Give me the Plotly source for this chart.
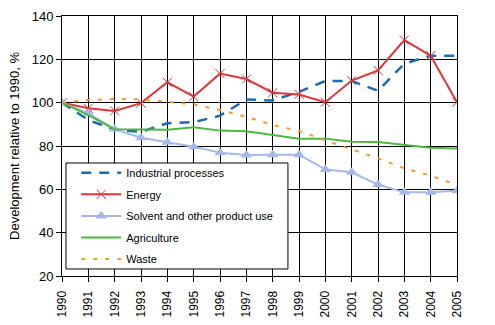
import plotly.graph_objects as go

years = list(range(1990, 2006))

industrial = [100, 92, 87.5, 86.5, 90.5, 91, 94, 101.5, 101, 105, 110, 110, 105.5, 118, 121.7, 121.7]
energy = [100, 97.4, 96.2, 99.8, 109.4, 102.8, 113.4, 110.9, 104.6, 103.8, 100.2, 110.2, 114.9, 128.9, 121.7, 100.2]
solvent = [100, 95.1, 87.8, 83.8, 81.7, 79.7, 76.9, 75.9, 76, 76, 69.2, 67.9, 62.2, 58.6, 58.6, 59.4]
agriculture = [100, 94.3, 87.7, 87.5, 87.5, 88.6, 87.1, 86.8, 85.1, 83.4, 83.4, 82, 81.8, 80.5, 79.2, 78.8]
waste = [100, 101.2, 101.7, 101.5, 100.4, 99.2, 96.6, 93.5, 89.7, 86.9, 82.6, 78.5, 74.3, 69.7, 66.3, 62]

font = "Liberation Sans, Arial, sans-serif"

fig = go.Figure()
fig.add_trace(go.Scatter(x=years, y=industrial, name="Industrial processes", mode="lines",
                         line=dict(color="#1F69B4", width=2.5, dash="10px,8px"), legendgroup="a"))
fig.add_trace(go.Scatter(x=years, y=energy, name="Energy", mode="lines+markers",
                         line=dict(color="#E0353A", width=2),
                         marker=dict(symbol="x-thin", size=9, line=dict(color="#E0353A", width=1)),
                         legendgroup="b"))
fig.add_trace(go.Scatter(x=years, y=solvent, name="Solvent and other product use", mode="lines+markers",
                         line=dict(color="#A4B8EA", width=2),
                         marker=dict(symbol="triangle-up", size=10, color="#A4B8EA"),
                         legendgroup="c"))
fig.add_trace(go.Scatter(x=years, y=agriculture, name="Agriculture", mode="lines",
                         line=dict(color="#4DB83F", width=2), legendgroup="d"))
fig.add_trace(go.Scatter(x=years, y=waste, name="Waste", mode="lines",
                         line=dict(color="#F39A2E", width=2, dash="4px,8px"), legendgroup="e"))

# Framed white panel behind the legend entries
fig.add_shape(type="rect", xref="paper", yref="paper",
              x0=0.0101, x1=0.572, y0=0.027, y1=0.4346,
              line=dict(color="black", width=1), fillcolor="white", layer="above")

fig.update_layout(
    width=495, height=325,
    margin=dict(l=62, r=38, t=16, b=49),
    paper_bgcolor="white", plot_bgcolor="white",
    font=dict(family=font, size=12, color="black"),
    showlegend=True,
    legend=dict(x=0.036, y=0.453, xanchor="left", yanchor="top",
                borderwidth=0, bgcolor="rgba(0,0,0,0)",
                font=dict(family=font, size=11, color="black"),
                tracegroupgap=2.6, itemwidth=40),
)
fig.update_xaxes(range=[1990, 2005], tickmode="array", tickvals=years,
                 ticktext=[str(y) for y in years], tickangle=-90, automargin=False,
                 showgrid=True, gridcolor="black", gridwidth=1,
                 showline=True, linecolor="black", linewidth=1, mirror=True,
                 ticks="outside", ticklen=5, tickcolor="black", ticklabelstandoff=4,
                 tickfont=dict(family=font, size=12), zeroline=False)
fig.update_yaxes(range=[20, 140], dtick=20, automargin=False,
                 showgrid=True, gridcolor="black", gridwidth=1,
                 showline=True, linecolor="black", linewidth=1, mirror=True,
                 ticks="outside", ticklen=5, tickcolor="black",
                 tickfont=dict(family=font, size=13), zeroline=False,
                 title=dict(text="Development relative to 1990, %", font=dict(family=font, size=13),
                            standoff=9))

fig.write_html("out.html")
